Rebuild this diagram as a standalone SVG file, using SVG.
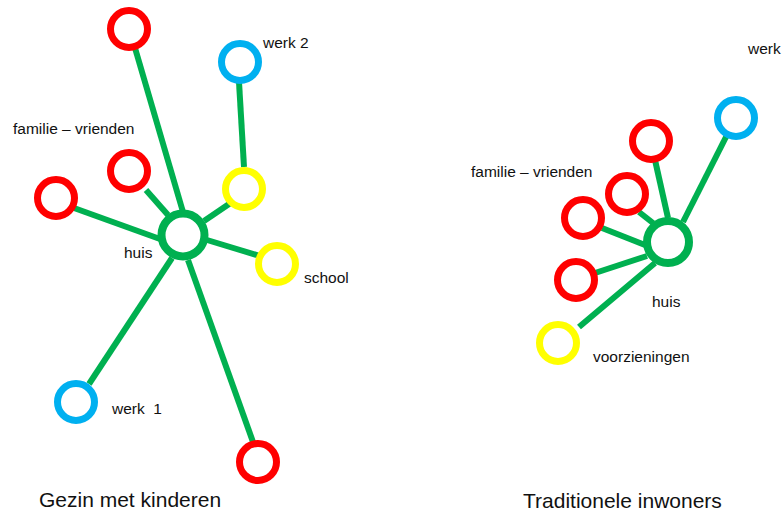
<svg xmlns="http://www.w3.org/2000/svg" width="783" height="512" viewBox="0 0 783 512">
<style>
.n{fill:#fff;stroke-width:7}
.r{stroke:#FF0000}.y{stroke:#FFFF00}.b{stroke:#00B0F0}
.h{fill:#fff;stroke:#00B050;stroke-width:8}
.c line{stroke:#00B050;stroke-width:6}
text{font-family:"Liberation Sans",Arial,sans-serif;font-size:15.5px;fill:#111;white-space:pre}
.t{font-size:21px}
</style>
<rect width="783" height="512" fill="#fff"/>
<g id="connectors" class="c">
<line x1="135" y1="48" x2="183" y2="212"/>
<line x1="146" y1="190" x2="168" y2="215"/>
<line x1="74" y1="208" x2="160" y2="239"/>
<line x1="239" y1="82" x2="244" y2="167"/>
<line x1="232" y1="202" x2="204" y2="221"/>
<line x1="207" y1="240" x2="260" y2="256"/>
<line x1="172" y1="258" x2="89" y2="384"/>
<line x1="188" y1="260" x2="253" y2="442"/>
<line x1="727" y1="135" x2="683" y2="222"/>
<line x1="655" y1="160" x2="668" y2="218"/>
<line x1="639" y1="212" x2="653" y2="223"/>
<line x1="602" y1="228" x2="645" y2="245"/>
<line x1="595" y1="273" x2="647" y2="256"/>
<line x1="579" y1="327" x2="655" y2="263"/>
</g>
<g id="L-huis"><circle class="h" cx="183" cy="235" r="21.5"/><text x="124" y="258">huis</text></g>
<g id="L-red-top"><circle class="n r" cx="129" cy="29" r="18.5"/></g>
<g id="L-werk2"><circle class="n b" cx="240" cy="62" r="18.5"/><text x="263" y="48">werk 2</text></g>
<g id="L-familie"><text x="13" y="134">familie – vrienden</text></g>
<g id="L-red-1"><circle class="n r" cx="129" cy="171" r="18.5"/></g>
<g id="L-red-2"><circle class="n r" cx="56" cy="198" r="18.5"/></g>
<g id="L-yellow"><circle class="n y" cx="244" cy="189" r="18.5"/></g>
<g id="L-school"><circle class="n y" cx="277" cy="264" r="18.5"/><text x="304" y="283">school</text></g>
<g id="L-werk1"><circle class="n b" cx="76" cy="402" r="18.5"/><text x="112" y="414">werk  1</text></g>
<g id="L-red-bottom"><circle class="n r" cx="258" cy="462" r="18.5"/></g>
<g id="L-title"><text class="t" x="39" y="507">Gezin met kinderen</text></g>
<g id="R-huis"><circle class="h" cx="668" cy="242" r="21"/><text x="652" y="307">huis</text></g>
<g id="R-werk"><circle class="n b" cx="736" cy="118" r="18.5"/><text x="748" y="54">werk</text></g>
<g id="R-familie"><text x="471" y="177">familie – vrienden</text></g>
<g id="R-red-1"><circle class="n r" cx="651" cy="141" r="18.5"/></g>
<g id="R-red-2"><circle class="n r" cx="627" cy="194" r="18.5"/></g>
<g id="R-red-3"><circle class="n r" cx="583" cy="218" r="18.5"/></g>
<g id="R-red-4"><circle class="n r" cx="576" cy="280" r="18.5"/></g>
<g id="R-voorz"><circle class="n y" cx="558" cy="343" r="18.5"/><text x="593" y="362">voorzieningen</text></g>
<g id="R-title"><text class="t" x="523" y="508">Traditionele inwoners</text></g>
</svg>
